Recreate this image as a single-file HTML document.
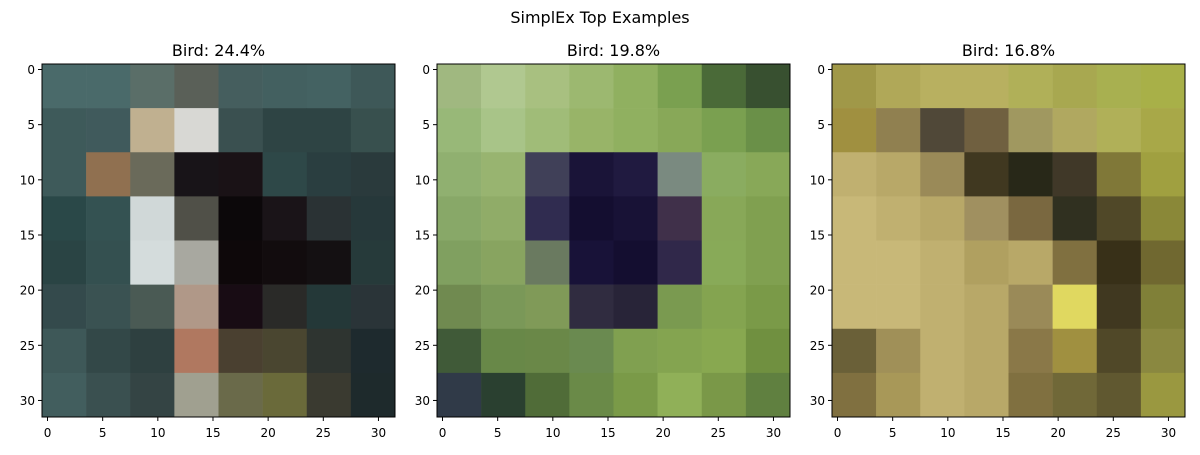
<!DOCTYPE html>
<html><head><meta charset="utf-8"><style>
body{margin:0;background:#fff;}
svg text{font-family:"DejaVu Sans","Liberation Sans",sans-serif;}
</style></head><body>
<svg id="chart" width="1200" height="450" xmlns="http://www.w3.org/2000/svg">
<rect width="1200" height="450" fill="#fff"/>
<text x="600" y="23" text-anchor="middle" font-size="16">SimplEx Top Examples</text>
</svg>
<script>
const titles = ["Bird: 24.4%", "Bird: 19.8%", "Bird: 16.8%"];
const ticks = [0, 5, 10, 15, 20, 25, 30];
const img1 = [
["#4a6a6a","#4a6a6a","#5a6e68","#5a6058","#455e5e","#436060","#446262","#3e5858"],
["#3e5a5a","#405a5c","#c0b090","#d8d8d4","#3a5050","#2e4444","#2e4444","#38504e"],
["#3e5a5a","#907050","#6a6a5a","#181418","#1a1216","#2e4848","#2a3e40","#2a3a3c"],
["#2a4848","#345252","#d0d8d8","#505048","#0c080a","#1a1418","#2a3234","#26383a"],
["#2a4444","#345050","#d4dcdc","#a8a8a0","#0e080a","#120c0e","#141012","#263a3a"],
["#344a4c","#3a5252","#4a5a54","#b09888","#180c14","#2a2a28","#243838","#2a3438"],
["#3e5858","#334848","#2e4040","#b07860","#4a4030","#4a4630","#2e3430","#1e2a2e"],
["#425e5e","#3a5050","#344444","#a0a090","#6a6a4a","#6a6a3a","#3a3a30","#1e2a2c"]];
const img2 = [
["#a0b880","#b0c890","#a8c080","#9cb870","#90b060","#7aa050","#4a6a38","#385030"],
["#98b878","#a8c488","#a0bc78","#98b468","#90b060","#88a858","#7aa050","#6a9048"],
["#90b070","#98b470","#404058","#1a1438","#201a40","#7a8a80","#8aac60","#88a858"],
["#88a868","#90ac68","#302c50","#140e30","#181236","#40304a","#88a858","#80a050"],
["#80a060","#88a460","#6a7a60","#181238","#140e30","#30284a","#88aa58","#80a050"],
["#708a50","#7a9858","#809a58","#302c40","#282438","#7a9a50","#84a450","#7a9a48"],
["#405a38","#688848","#6a8848","#6a8a50","#80a050","#84a450","#88a850","#709040"],
["#303a48","#2a4030","#506c38","#6a8a48","#7a9a48","#90b058","#7a9848","#608040"]];
const img3 = [
["#a09848","#b0a858","#b8b060","#b8b060","#b0b058","#a8a850","#a8b050","#a8b048"],
["#a09040","#908050","#504838","#706040","#a09860","#b0a860","#b0b058","#a8a848"],
["#c0b070","#b8a868","#9a8a58","#403820","#282818","#403828","#807838","#a0a040"],
["#c8b878","#c0b070","#b8a868","#a09060","#7a6840","#303020","#504828","#8a8838"],
["#c8b878","#c8b878","#c0b070","#b0a060","#b8a868","#807040","#383018","#706830"],
["#c8b878","#c8b878","#c0b070","#b8a868","#9a8a58","#e0d860","#403820","#808038"],
["#6a6038","#a09058","#c0b070","#b8a868","#8a7848","#a09040","#504828","#8a8840"],
["#807040","#a89858","#c0b070","#b8a868","#807040","#706838","#605830","#9a9840"]];
const images = [img1, img2, img3];
const NS = "http://www.w3.org/2000/svg";
const svg = document.getElementById("chart");
const lefts = [42, 437, 832], top0 = 64, size = 353;
function mk(tag, attrs, parent){const e=document.createElementNS(NS,tag);for(const k in attrs)e.setAttribute(k,attrs[k]);(parent||svg).appendChild(e);return e;}
images.forEach((img, p) => {
  const L = lefts[p];
  const g = mk("g", {});
  
  
  const sx = v => L + (v + 0.5) * size / 32;
  const sy = v => top0 + (v + 0.5) * size / 32;
  const n = img.length, step = 32 / n;
  img.forEach((row, r) => row.forEach((c, col) => {
    const x0 = sx(col*step - 0.5), x1 = sx((col+1)*step - 0.5);
    const y0 = sy(r*step - 0.5), y1 = sy((r+1)*step - 0.5);
    const rc = mk("rect", {x:x0, y:y0, width:x1-x0+0.3, height:y1-y0+0.3, fill:c}, g);
    
    
  }));
  const fr = mk("rect", {x:L, y:top0, width:size, height:size, fill:"none", stroke:"#000", "stroke-width":1}, g);
  
  
  const t = mk("text", {x:L+size/2, y:56, "text-anchor":"middle", "font-size":16}, g);
  t.textContent = titles[p];
  
  
  ticks.forEach(v => {
    mk("line", {x1:sx(v), x2:sx(v), y1:top0+size, y2:top0+size+4, stroke:"#000"}, g);
    const tx = mk("text", {x:sx(v), y:top0+size+20, "text-anchor":"middle", "font-size":12}, g);
    tx.textContent = v;
    
    
    mk("line", {x1:L-4, x2:L, y1:sy(v), y2:sy(v), stroke:"#000"}, g);
    const ty = mk("text", {x:L-7, y:sy(v)+4.5, "text-anchor":"end", "font-size":12}, g);
    ty.textContent = v;
    
    
  });
});
</script>
</body></html>
